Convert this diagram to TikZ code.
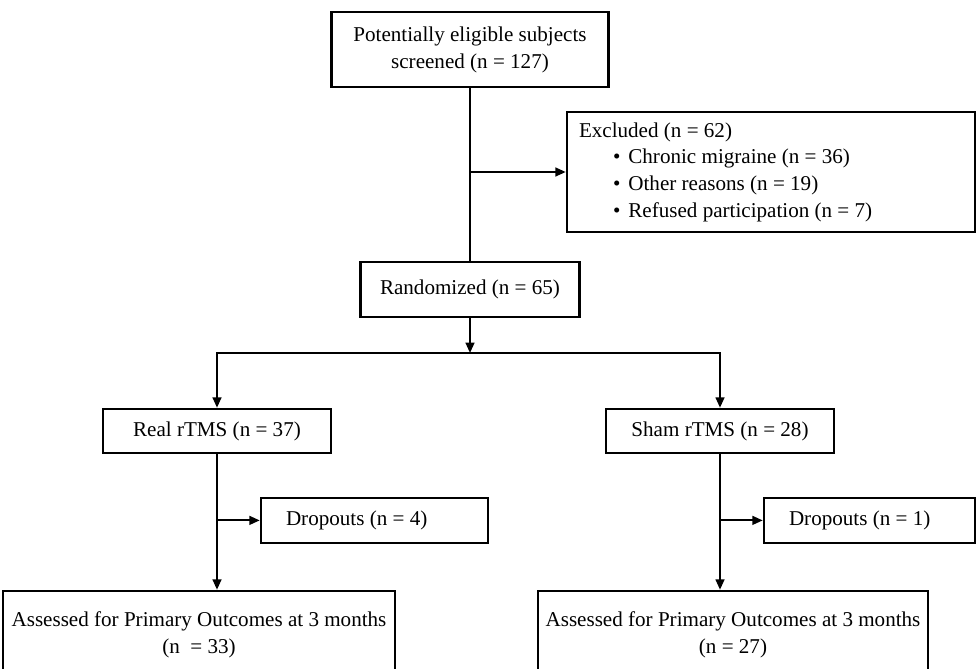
\documentclass[tikz,border=0pt]{standalone}
\usepackage{fontspec}
\setmainfont{Liberation Serif}
\usepackage{tikz}
\usetikzlibrary{arrows.meta,positioning}

\newcommand{\exitem}[1]{\hspace*{0.85cm}\textbullet\hspace{0.2cm}#1}

\begin{document}
\begin{tikzpicture}[
    every node/.style={font=\fontsize{15}{19}\selectfont},
    bx/.style={rectangle, draw, line width=1.8pt, align=center, inner sep=2pt},
    lbx/.style={bx, align=flush left, inner ysep=2pt},
    ln/.style={line width=1.4pt},
    e/.style={ln, -{Triangle[length=2.6mm, width=2.2mm]}},
  ]
  \useasboundingbox (0,0) rectangle (24.475,-16.725);
  \node[bx, minimum width=6.925cm, minimum height=1.875cm] (scr) at (11.75, -1.24)
    {Potentially eligible subjects\\screened (n = 127)};
  \node[lbx, minimum height=3.0cm, inner xsep=0.3cm, text width=9.6cm] (excl) at (19.275, -4.3)
    {Excluded (n = 62)\\
     \exitem{Chronic migraine (n = 36)}\\
     \exitem{Other reasons (n = 19)}\\
     \exitem{Refused participation (n = 7)}};
  \node[bx, minimum width=5.475cm, minimum height=1.375cm] (rand) at (11.75, -7.24)
    {Randomized (n = 65)};
  \coordinate (split) at (11.75, -8.825);
  \node[bx, minimum width=5.7cm, minimum height=1.1cm] (real) at (5.425, -10.775)
    {Real rTMS (n = 37)};
  \node[bx, minimum width=5.7cm, minimum height=1.1cm] (sham) at (18.0, -10.775)
    {Sham rTMS (n = 28)};
  \node[lbx, minimum height=1.125cm, inner xsep=0.625cm, text width=4.425cm] (dropl) at (9.3625, -13.01)
    {Dropouts (n = 4)};
  \node[lbx, minimum height=1.125cm, inner xsep=0.625cm, text width=4.025cm] (dropr) at (21.7375, -13.01)
    {Dropouts (n = 1)};
  \node[bx, minimum width=9.8cm, minimum height=2.2cm] (assl) at (4.975, -15.875)
    {Assessed for Primary Outcomes at 3 months\\(n\ \ = 33)};
  \node[bx, minimum width=9.75cm, minimum height=2.2cm] (assr) at (18.325, -15.875)
    {Assessed for Primary Outcomes at 3 months\\(n = 27)};
  \coordinate (j1) at (scr.south |- excl.west);
  \coordinate (j2) at (real.south |- dropl.west);
  \coordinate (j3) at (sham.south |- dropr.west);
  \draw[ln] (scr) -- (rand);
  \draw[e] (j1) -- (excl.west);
  \draw[e] (rand) -- (split);
  \draw[e] (split) -| (real.north);
  \draw[e] (split) -| (sham.north);
  \draw[e] (real.south) -- (real.south |- assl.north);
  \draw[e] (sham.south) -- (sham.south |- assr.north);
  \draw[e] (j2) -- (dropl.west);
  \draw[e] (j3) -- (dropr.west);
\end{tikzpicture}
\end{document}
